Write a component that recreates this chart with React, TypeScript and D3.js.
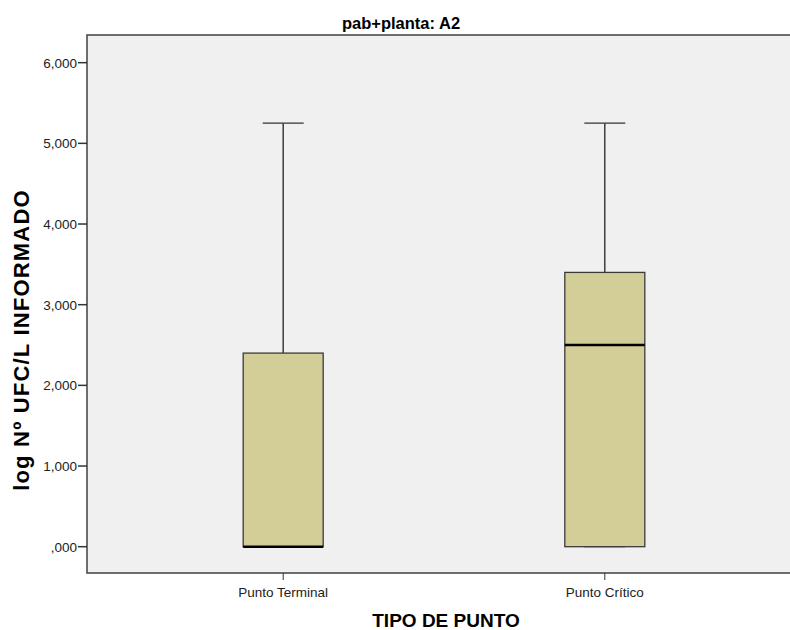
import * as d3 from 'd3';
import React from 'react';

const categories = ['Punto Terminal', 'Punto Crítico'];
const lowerWhisker = [0, 0];
const q1 = [0, 0];
const median = [0, 2.5];
const q3 = [2.4, 3.4];
const upperWhisker = [5.25, 5.25];
const yTicks = [0, 1, 2, 3, 4, 5, 6];

const width = 790;
const height = 630;
const marginLeft = 87;
const marginTop = 35;
const plotBottom = 573;
const plotRight = 801; // the frame runs past the cropped right edge

const font = 'Arial, "Liberation Sans", sans-serif';

// SPSS style: ",000", "1,000"
const fmt = (v: number) => {
  const s = d3.format('.3f')(v).replace('.', ',');
  return s.startsWith('0,') ? s.slice(1) : s;
};

export default function App() {
  const x = d3.scalePoint<string>()
    .domain(categories)
    .range([marginLeft, plotRight])
    .padding(0.61);

  const y = d3.scaleLinear()
    .domain([-0.326, 6.343])
    .range([plotBottom, marginTop]);

  const boxW = 80;
  const capW = 41;

  return (
    <svg width={width} height={height} style={{ position: 'absolute', left: 0, top: 0, background: '#fff' }}>
      <text x={401} y={29} textAnchor="middle" fontFamily={font} fontWeight="bold" fontSize={16.5} fill="#000">
        pab+planta: A2
      </text>

      {/* plot area */}
      <rect x={marginLeft} y={marginTop} width={plotRight - marginLeft} height={plotBottom - marginTop}
        fill="#F0F0F0" stroke="#404040" strokeWidth={1.5} />

      {/* y axis ticks */}
      {yTicks.map(t => (
        <g key={t}>
          <line x1={marginLeft - 9} x2={marginLeft} y1={y(t)} y2={y(t)} stroke="#333" strokeWidth={1.5} />
          <text x={marginLeft - 10} y={y(t)} dy="0.36em" textAnchor="end" fontFamily={font} fontSize={13.5} fill="#222">
            {fmt(t)}
          </text>
        </g>
      ))}

      {/* x axis ticks */}
      {categories.map(c => (
        <g key={c}>
          <line x1={x(c)} x2={x(c)} y1={plotBottom} y2={plotBottom + 7} stroke="#333" strokeWidth={1} />
          <text x={x(c)} y={plotBottom + 24} textAnchor="middle" fontFamily={font} fontSize={13.5} fill="#222">
            {c}
          </text>
        </g>
      ))}

      {/* boxes */}
      {categories.map((c, i) => {
        const cx = x(c) as number;
        return (
          <g key={c}>
            <line x1={cx} x2={cx} y1={y(upperWhisker[i])} y2={y(q3[i])} stroke="#222" strokeWidth={1.3} />
            <line x1={cx - capW / 2} x2={cx + capW / 2} y1={y(upperWhisker[i])} y2={y(upperWhisker[i])} stroke="#333" strokeWidth={1.3} />
            <line x1={cx} x2={cx} y1={y(q1[i])} y2={y(lowerWhisker[i])} stroke="#222" strokeWidth={1.3} />
            <line x1={cx - capW / 2} x2={cx + capW / 2} y1={y(lowerWhisker[i])} y2={y(lowerWhisker[i])} stroke="#333" strokeWidth={1.3} />
            <rect x={cx - boxW / 2} y={y(q3[i])} width={boxW} height={y(q1[i]) - y(q3[i])}
              fill="#D3CE98" stroke="#3a3a3a" strokeWidth={1.3} />
            <line x1={cx - boxW / 2} x2={cx + boxW / 2} y1={y(median[i])} y2={y(median[i])} stroke="#000" strokeWidth={2.5} />
          </g>
        );
      })}

      <text transform={`translate(29,340) rotate(-90)`} textAnchor="middle" fontFamily={font} fontWeight="bold" fontSize={22} letterSpacing={1.2} fill="#000">
        log Nº UFC/L INFORMADO
      </text>
      <text x={446} y={627} textAnchor="middle" fontFamily={font} fontWeight="bold" fontSize={19} fill="#000">
        TIPO DE PUNTO
      </text>
    </svg>
  );
}
